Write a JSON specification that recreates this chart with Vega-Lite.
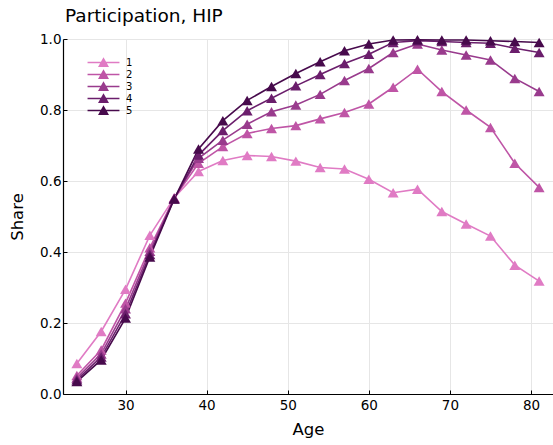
{
  "$schema": "https://vega.github.io/schema/vega-lite/v6.json",
  "autosize": {"type": "none"},
  "padding": {"left": 63, "top": 39, "right": 0, "bottom": 51},
  "width": 490,
  "height": 355,
  "background": "white",
  "config": {
    "font": "DejaVu Sans",
    "view": {"stroke": null},
    "axis": {"labelFont": "DejaVu Sans", "titleFont": "DejaVu Sans", "labelColor": "black", "titleColor": "black", "titleFontWeight": "normal"}
  },
  "title": {"text": "Participation, HIP", "anchor": "start", "frame": "group", "fontSize": 18.5, "fontWeight": "normal", "font": "DejaVu Sans", "color": "black", "offset": 7, "dx": 2},
  "data": {"values": [
    {"age":24,"s":"1","v":0.086},{"age":27,"s":"1","v":0.176},{"age":30,"s":"1","v":0.295},{"age":33,"s":"1","v":0.447},{"age":36,"s":"1","v":0.553},{"age":39,"s":"1","v":0.627},{"age":42,"s":"1","v":0.658},{"age":45,"s":"1","v":0.672},{"age":48,"s":"1","v":0.669},{"age":51,"s":"1","v":0.656},{"age":54,"s":"1","v":0.638},{"age":57,"s":"1","v":0.634},{"age":60,"s":"1","v":0.605},{"age":63,"s":"1","v":0.567},{"age":66,"s":"1","v":0.577},{"age":69,"s":"1","v":0.514},{"age":72,"s":"1","v":0.479},{"age":75,"s":"1","v":0.445},{"age":78,"s":"1","v":0.363},{"age":81,"s":"1","v":0.318},
    {"age":24,"s":"2","v":0.052},{"age":27,"s":"2","v":0.124},{"age":30,"s":"2","v":0.256},{"age":33,"s":"2","v":0.412},{"age":36,"s":"2","v":0.552},{"age":39,"s":"2","v":0.650},{"age":42,"s":"2","v":0.697},{"age":45,"s":"2","v":0.734},{"age":48,"s":"2","v":0.748},{"age":51,"s":"2","v":0.756},{"age":54,"s":"2","v":0.775},{"age":57,"s":"2","v":0.793},{"age":60,"s":"2","v":0.817},{"age":63,"s":"2","v":0.864},{"age":66,"s":"2","v":0.915},{"age":69,"s":"2","v":0.852},{"age":72,"s":"2","v":0.800},{"age":75,"s":"2","v":0.751},{"age":78,"s":"2","v":0.650},{"age":81,"s":"2","v":0.582},
    {"age":24,"s":"3","v":0.045},{"age":27,"s":"3","v":0.113},{"age":30,"s":"3","v":0.240},{"age":33,"s":"3","v":0.402},{"age":36,"s":"3","v":0.551},{"age":39,"s":"3","v":0.664},{"age":42,"s":"3","v":0.715},{"age":45,"s":"3","v":0.760},{"age":48,"s":"3","v":0.795},{"age":51,"s":"3","v":0.814},{"age":54,"s":"3","v":0.844},{"age":57,"s":"3","v":0.883},{"age":60,"s":"3","v":0.917},{"age":63,"s":"3","v":0.962},{"age":66,"s":"3","v":0.986},{"age":69,"s":"3","v":0.969},{"age":72,"s":"3","v":0.955},{"age":75,"s":"3","v":0.941},{"age":78,"s":"3","v":0.889},{"age":81,"s":"3","v":0.852},
    {"age":24,"s":"4","v":0.040},{"age":27,"s":"4","v":0.104},{"age":30,"s":"4","v":0.226},{"age":33,"s":"4","v":0.393},{"age":36,"s":"4","v":0.550},{"age":39,"s":"4","v":0.673},{"age":42,"s":"4","v":0.742},{"age":45,"s":"4","v":0.798},{"age":48,"s":"4","v":0.833},{"age":51,"s":"4","v":0.868},{"age":54,"s":"4","v":0.900},{"age":57,"s":"4","v":0.931},{"age":60,"s":"4","v":0.957},{"age":63,"s":"4","v":0.990},{"age":66,"s":"4","v":0.995},{"age":69,"s":"4","v":0.993},{"age":72,"s":"4","v":0.990},{"age":75,"s":"4","v":0.988},{"age":78,"s":"4","v":0.974},{"age":81,"s":"4","v":0.962},
    {"age":24,"s":"5","v":0.035},{"age":27,"s":"5","v":0.096},{"age":30,"s":"5","v":0.214},{"age":33,"s":"5","v":0.386},{"age":36,"s":"5","v":0.549},{"age":39,"s":"5","v":0.690},{"age":42,"s":"5","v":0.770},{"age":45,"s":"5","v":0.827},{"age":48,"s":"5","v":0.866},{"age":51,"s":"5","v":0.903},{"age":54,"s":"5","v":0.936},{"age":57,"s":"5","v":0.967},{"age":60,"s":"5","v":0.986},{"age":63,"s":"5","v":0.997},{"age":66,"s":"5","v":0.998},{"age":69,"s":"5","v":0.997},{"age":72,"s":"5","v":0.997},{"age":75,"s":"5","v":0.995},{"age":78,"s":"5","v":0.993},{"age":81,"s":"5","v":0.990}
  ]},
  "encoding": {
    "x": {"field": "age", "type": "quantitative", "title": "Age",
      "scale": {"domain": [22.29, 82.71], "nice": false, "zero": false},
      "axis": {"values": [30, 40, 50, 60, 70, 80], "grid": true, "gridColor": "#e6e6e6", "gridWidth": 1, "domainColor": "black", "domainWidth": 1.2, "tickColor": "black", "tickSize": -4, "labelFontSize": 13.5, "labelPadding": 8, "titleFontSize": 16.5, "titleBaseline": "alphabetic", "titleY": 40}},
    "y": {"field": "v", "type": "quantitative", "title": "Share",
      "scale": {"domain": [0, 1], "nice": false},
      "axis": {"values": [0, 0.2, 0.4, 0.6, 0.8, 1.0], "format": ".1f", "grid": true, "gridColor": "#e6e6e6", "gridWidth": 1, "domainColor": "black", "domainWidth": 1.2, "tickColor": "black", "tickSize": -4, "labelFontSize": 13.5, "labelPadding": 6, "titleFontSize": 16.5, "titleX": -46, "titleBaseline": "middle"}},
    "color": {"field": "s", "type": "nominal",
      "scale": {"domain": ["1", "2", "3", "4", "5"], "range": ["#e07bc4", "#bf55a6", "#993b8d", "#6b1e6c", "#470a4c"]},
      "legend": {"title": null, "orient": "none", "legendX": 35, "legendY": 18, "symbolType": "M-2.9,-0.12H2.9V0.12H-2.9Z M0,-0.95L1,0.8L-1,0.8Z", "symbolSize": 121, "symbolStrokeWidth": 0, "labelFontSize": 10, "labelFont": "DejaVu Sans", "labelColor": "black", "labelOffset": 17, "rowPadding": 1,
        "encode": {"symbols": {"update": {"fill": {"scale": "color", "field": "value"}, "strokeWidth": {"value": 0}, "opacity": {"value": 1}}}}}
    },
    "detail": {"field": "s"}
  },
  "layer": [
    {"mark": {"type": "line", "strokeWidth": 1.6}},
    {"mark": {"type": "point", "shape": "triangle-up", "filled": true, "size": 120, "opacity": 1, "strokeWidth": 0}}
  ]
}
